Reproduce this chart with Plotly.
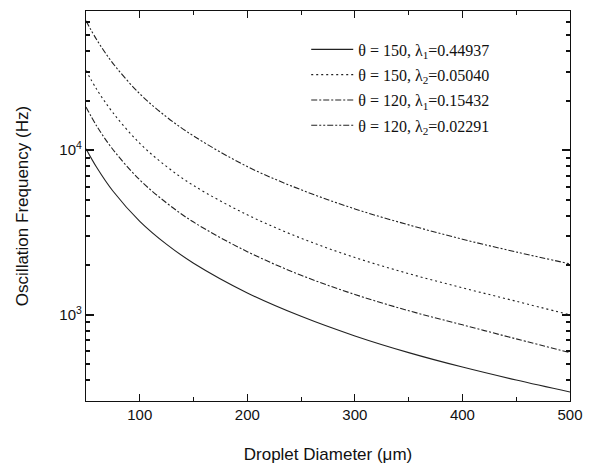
import plotly.graph_objects as go

diameter = [50, 60, 75, 100, 125, 150, 200, 250, 300, 350, 400, 450, 500]
f_150_l1 = [10200, 7850, 5650, 3700, 2680, 2060, 1360, 980, 745, 590, 482, 402, 340]
f_150_l2 = [30500, 23400, 16900, 11000, 7950, 6100, 4050, 2920, 2230, 1780, 1460, 1210, 1000]
f_120_l1 = [18300, 14000, 10100, 6600, 4780, 3660, 2420, 1740, 1330, 1060, 870, 715, 590]
f_120_l2 = [61000, 46800, 33700, 22000, 15900, 12200, 7950, 5750, 4400, 3520, 2880, 2410, 2040]

names = ["θ = 150, λ<sub>1</sub>=0.44937",
         "θ = 150, λ<sub>2</sub>=0.05040",
         "θ = 120, λ<sub>1</sub>=0.15432",
         "θ = 120, λ<sub>2</sub>=0.02291"]
series = [f_150_l1, f_150_l2, f_120_l1, f_120_l2]
dashes = ["solid", "2px,3px", "6px,2px,2px,2px", "6px,2px,2px,2px,2px,2px"]

fig = go.Figure()
for i, (nm, ys, ds) in enumerate(zip(names, series, dashes)):
    fig.add_trace(go.Scatter(x=diameter, y=ys, mode="lines", name=nm,
                             legendgroup=str(i),
                             line=dict(color="#222222", width=1.1, dash=ds, shape="spline")))

x_major = [100, 200, 300, 400, 500]
x_minor = [50, 150, 250, 350, 450]
y_major = [1000, 10000]
y_major_text = ["10<sup>3</sup>", "10<sup>4</sup>"]
y_minor = [300, 400, 500, 600, 700, 800, 900, 2000, 3000, 4000, 5000, 6000, 7000, 8000, 9000,
           20000, 30000, 40000, 50000, 60000, 70000]

axis_font = dict(family="Liberation Sans, Arial, sans-serif", size=15, color="#111111")

fig.update_layout(
    width=592, height=470,
    margin=dict(l=85.5, r=15.3, t=9.3, b=65.3),
    paper_bgcolor="white", plot_bgcolor="white",
    showlegend=True,
    legend=dict(x=0.455, y=0.945, xanchor="left", yanchor="top",
                bgcolor="rgba(0,0,0,0)", tracegroupgap=1.5, itemwidth=42,
                font=dict(family="Liberation Serif, Times New Roman, serif", size=16, color="#111111")),
    xaxis=dict(range=[50, 500], tickmode="array", tickvals=x_major,
               ticks="inside", ticklen=7, tickwidth=1, tickcolor="#111111",
               showline=True, linecolor="#111111", linewidth=1.2, mirror="ticks",
               showgrid=False, zeroline=False,
               minor=dict(tickvals=x_minor, ticks="inside", ticklen=4, tickcolor="#111111"),
               tickfont=axis_font,
               title=dict(text="Droplet Diameter (μm)", font=dict(family="Liberation Sans, Arial, sans-serif", size=17, color="#111111"), standoff=26)),
    yaxis=dict(type="log", range=[2.4771, 4.8451], tickmode="array",
               tickvals=y_major, ticktext=y_major_text,
               ticks="inside", ticklen=8, tickwidth=1.5, tickcolor="#111111",
               showline=True, linecolor="#111111", linewidth=1.2, mirror="ticks",
               showgrid=False, zeroline=False,
               minor=dict(tickvals=y_minor, ticks="inside", ticklen=4, tickcolor="#111111"),
               tickfont=axis_font,
               title=dict(text="Oscillation Frequency (Hz)", font=dict(family="Liberation Sans, Arial, sans-serif", size=17, color="#111111"), standoff=26)),
)

fig.write_html("out.html")
